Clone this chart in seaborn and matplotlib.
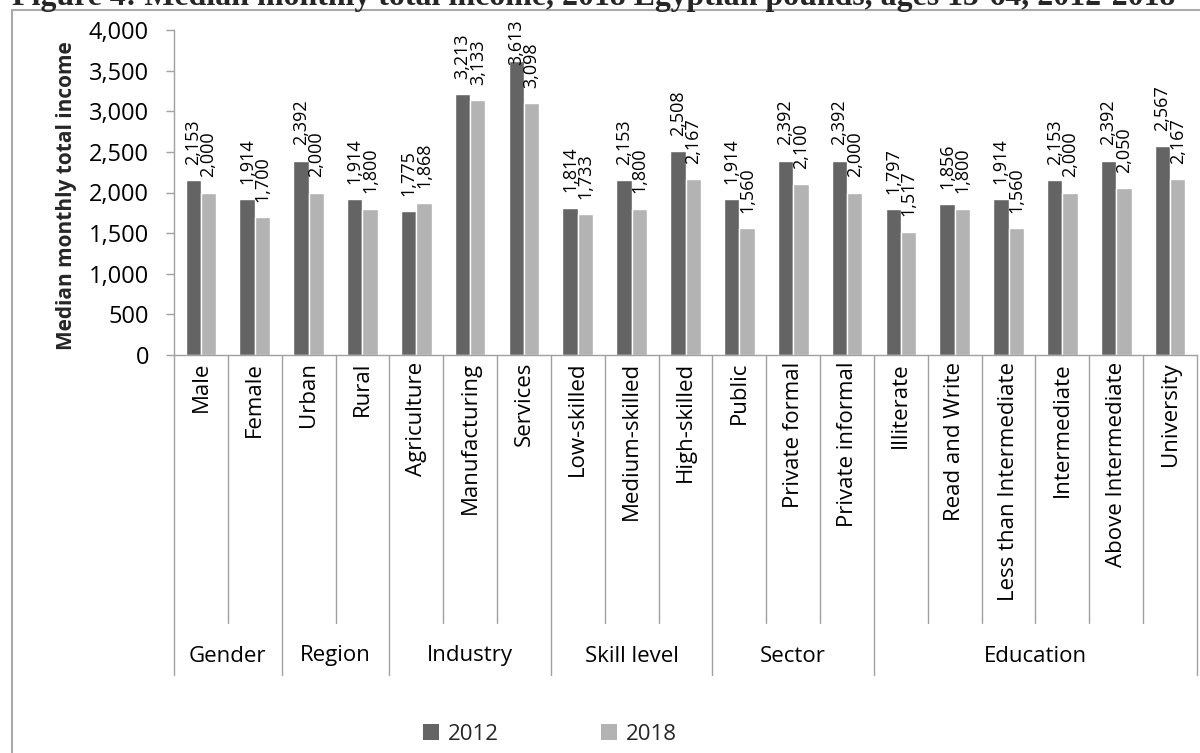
import matplotlib
matplotlib.use("Agg")
import matplotlib.pyplot as plt
from matplotlib.lines import Line2D
from matplotlib.patches import Patch
import numpy as np
import pandas as pd
import seaborn as sns

# ---- data -------------------------------------------------------------
categories = [
    "Male", "Female",
    "Urban", "Rural",
    "Agriculture", "Manufacturing", "Services",
    "Low-skilled", "Medium-skilled", "High-skilled",
    "Public", "Private formal", "Private informal",
    "Illiterate", "Read and Write", "Less than Intermediate",
    "Intermediate", "Above Intermediate", "University",
]
groups = ["Gender", "Region", "Industry", "Skill level", "Sector", "Education"]
group_sizes = [2, 2, 3, 3, 3, 6]
income_2012 = [2153, 1914, 2392, 1914, 1775, 3213, 3613, 1814, 2153, 2508,
               1914, 2392, 2392, 1797, 1856, 1914, 2153, 2392, 2567]
income_2018 = [2000, 1700, 2000, 1800, 1868, 3133, 3098, 1733, 1800, 2167,
               1560, 2100, 2000, 1517, 1800, 1560, 2000, 2050, 2167]
years = ["2012", "2018"]
y_ticks = [0, 500, 1000, 1500, 2000, 2500, 3000, 3500, 4000]
title = "Figure 4: Median monthly total income, 2018 Egyptian pounds, ages 15-64, 2012-2018"

# ---- style ------------------------------------------------------------
sns.set_theme(style="white")
plt.rcParams["font.family"] = ["Open Sans", "DejaVu Sans"]

DARK = "#646464"
LIGHT = "#b3b3b3"
AXIS = "#a0a0a0"
FRAME = "#aaaaaa"

W, H = 1200, 753
fig = plt.figure(figsize=(W / 100, H / 100), dpi=100)
ax = fig.add_axes([174 / W, 1 - 355 / H, 1023 / W, 325 / H])

df = pd.DataFrame({
    "category": categories * 2,
    "year": [years[0]] * len(categories) + [years[1]] * len(categories),
    "income": income_2012 + income_2018,
})

sns.barplot(data=df, x="category", y="income", hue="year",
            order=categories, hue_order=years, palette=[DARK, LIGHT],
            width=0.57, saturation=1, errorbar=None, legend=False, ax=ax)

PAD = 11
value_labels = []
for cont, vals in zip(ax.containers, [income_2012, income_2018]):
    value_labels += ax.bar_label(cont, labels=[f"{v:,}" for v in vals],
                                 rotation=90, padding=PAD, fontsize=13,
                                 color="black")

# ---- axes -------------------------------------------------------------
ax.set_xlim(-0.5, len(categories) - 0.5)
ax.set_ylim(0, 4000)
ax.set_yticks(y_ticks)
ax.set_yticklabels([f"{v:,}" for v in y_ticks])
ax.set_xticks(range(len(categories)))
ax.set_xticklabels(categories, rotation=90)
ax.set_xlabel("")
ax.set_ylabel("")
ax.tick_params(axis="x", length=0, pad=5, labelsize=16, labelcolor="black")
ax.tick_params(axis="y", length=6, width=1, color=AXIS, direction="out",
               pad=12, labelsize=17, labelcolor="black", left=True)
for side in ["top", "right"]:
    ax.spines[side].set_visible(False)
for side in ["left", "bottom"]:
    ax.spines[side].set_color(AXIS)
    ax.spines[side].set_linewidth(1)
ax.grid(False)

# category separators and group brackets under the axis
trans = ax.get_xaxis_transform()
bounds = np.cumsum([0] + group_sizes) - 0.5
short_end = (355 - 623) / 325
long_end = (355 - 675) / 325
for b in np.arange(-0.5, len(categories), 1.0):
    is_group = np.any(np.isclose(bounds, b))
    ax.plot([b, b], [0, long_end if is_group else short_end], transform=trans,
            clip_on=False, color=AXIS, lw=1)
for name, lo, hi in zip(groups, bounds[:-1], bounds[1:]):
    ax.text((lo + hi) / 2, (355 - 656) / 325, name, transform=trans,
            ha="center", va="center", fontsize=16, color="black")

# ---- figure texts ----------------------------------------------------
fig.text(67 / W, 1 - 196 / H, "Median monthly total income", rotation=90,
         fontweight="bold", fontsize=15, ha="center", va="center")

handles = [Patch(facecolor=DARK, edgecolor="none"),
           Patch(facecolor=LIGHT, edgecolor="none")]
fig.legend(handles, years, loc="center", bbox_to_anchor=(550 / W, 1 - 734 / H),
           ncol=2, frameon=False, fontsize=16, handlelength=0.7,
           handleheight=0.7, handletextpad=0.4, columnspacing=4.6)

# chart frame (left and top edges)
fig.add_artist(Line2D([11.5 / W, 11.5 / W], [0, 1 - 10 / H], color=FRAME, lw=1.5))
fig.add_artist(Line2D([11.5 / W, 1], [1 - 10 / H, 1 - 10 / H], color=FRAME, lw=1.5))

t = fig.text(12 / W, 1 - 5 / H, title, family="Liberation Serif",
             fontweight="bold", fontsize=20, ha="left", va="baseline")
renderer = fig.canvas.get_renderer()
tw = t.get_window_extent(renderer).width
t.set_fontsize(20 * 1163 / tw)

# keep value labels inside the chart area (push tall ones down)
top_limit = H - 19
for lab in value_labels:
    bb = lab.get_window_extent(renderer)
    if bb.y1 > top_limit:
        excess_pt = (bb.y1 - top_limit) * 72 / fig.dpi
        lab.xyann = (0, PAD - excess_pt)

fig.savefig("out.png", dpi=100)
